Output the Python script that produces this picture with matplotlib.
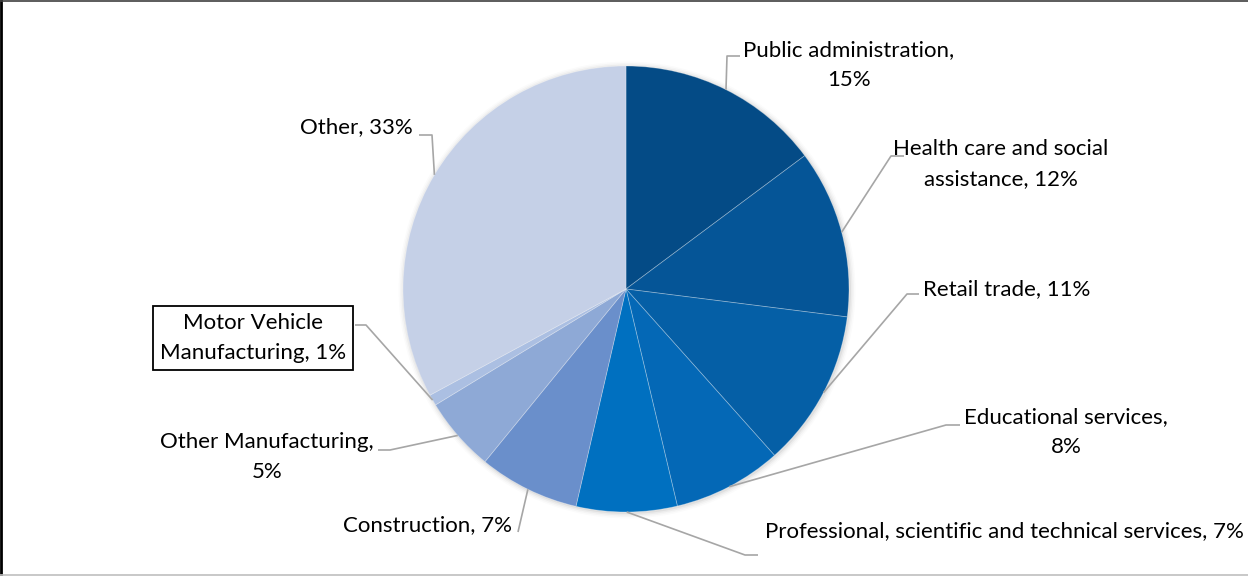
import numpy as np
import matplotlib
matplotlib.use("Agg")
import matplotlib.pyplot as plt
from matplotlib.patches import Circle

categories = ["Public administration", "Health care and social\nassistance",
              "Retail trade", "Educational services", "Professional, scientific and technical services",
              "Construction", "Other Manufacturing", "Motor Vehicle\nManufacturing", "Other"]
values = [14.8, 12.2, 11.4, 7.9, 7.3, 7.3, 5.4, 0.8, 32.9]
label_texts = ["Public administration,\n15%", "Health care and social\nassistance, 12%",
               "Retail trade, 11%", "Educational services,\n8%",
               "Professional, scientific and technical services, 7%",
               "Construction, 7%", "Other Manufacturing,\n5%",
               "Motor Vehicle\nManufacturing, 1%", "Other, 33%"]
colors = ["#044B86", "#055597", "#055FA6", "#0468B6", "#0070C0",
          "#6A8FCB", "#8EA9D6", "#ABBFE2", "#C5D0E7"]

W, H = 1248, 576
fig = plt.figure(figsize=(W / 100, H / 100), dpi=100)
ax = fig.add_axes([0, 0, 1, 1])

def Y(y):
    return H - y

cx, cy, R = 626, Y(289), 223

# soft shadow
for i, a in enumerate([0.05, 0.035, 0.025, 0.015]):
    ax.add_patch(Circle((cx + 1, cy - 1), R + 1 + i * 1.5, color="black", alpha=a, lw=0, zorder=1))

wedges, _ = ax.pie(values, colors=colors, startangle=90, counterclock=False,
                   center=(cx, cy), radius=R, frame=True,
                   wedgeprops=dict(edgecolor=(1, 1, 1, 0.3), linewidth=0.6))
for w in wedges:
    w.set_zorder(2)
ax.set_xlim(0, W)
ax.set_ylim(0, H)
ax.set_aspect("equal")
ax.axis("off")

# label layout: text position (pixels from top-left), alignment, elbow points
layout = [
    dict(tx=849, ty=65, ha="center", pts=[(727, 56), (740, 56)]),
    dict(tx=1001, ty=164, ha="center", pts=[(891, 156), (904, 156)]),
    dict(tx=923, ty=289, ha="left", pts=[(907, 294), (919, 294)]),
    dict(tx=1066, ty=432, ha="center", pts=[(946, 425), (960, 425)]),
    dict(tx=765, ty=531, ha="left", pts=[(745, 555), (758, 555)]),
    dict(tx=512, ty=525, ha="right", pts=[(518, 532)]),
    dict(tx=267, ty=457, ha="center", pts=[(390, 450), (378, 450)]),
    dict(tx=253, ty=338, ha="center", pts=[(366, 325), (355, 325)]),
    dict(tx=413, ty=127, ha="right", pts=[(432, 135), (419, 135)]),
]

font = dict(family=["Lato", "DejaVu Sans"], size=16, color="black")
for w, lab, lo in zip(wedges, label_texts, layout):
    th = np.deg2rad(0.5 * (w.theta1 + w.theta2))
    ax0, ay0 = cx + R * np.cos(th), cy + R * np.sin(th)
    xs = [ax0] + [p[0] for p in lo["pts"]]
    ys = [ay0] + [Y(p[1]) for p in lo["pts"]]
    ax.plot(xs, ys, color="#A6A6A6", lw=1.2, zorder=3, solid_capstyle="butt")
    kw = {}
    if "Motor" in lab:
        kw = dict(bbox=dict(boxstyle="square,pad=0.33", fc="white", ec="black", lw=1.3))
    ax.text(lo["tx"], Y(lo["ty"]), lab, ha=lo["ha"], va="center", multialignment="center",
            linespacing=1.58, zorder=4, **font, **kw)

# frame
ax.plot([1, 1], [0, H], color="black", lw=2.0, zorder=5)
ax.plot([0, W], [H - 0.7, H - 0.7], color="#404040", lw=1.2, zorder=5)
ax.plot([0, W], [1.5, 1.5], color="#BFBFBF", lw=1.2, zorder=5)

fig.savefig("out.png", dpi=100)
